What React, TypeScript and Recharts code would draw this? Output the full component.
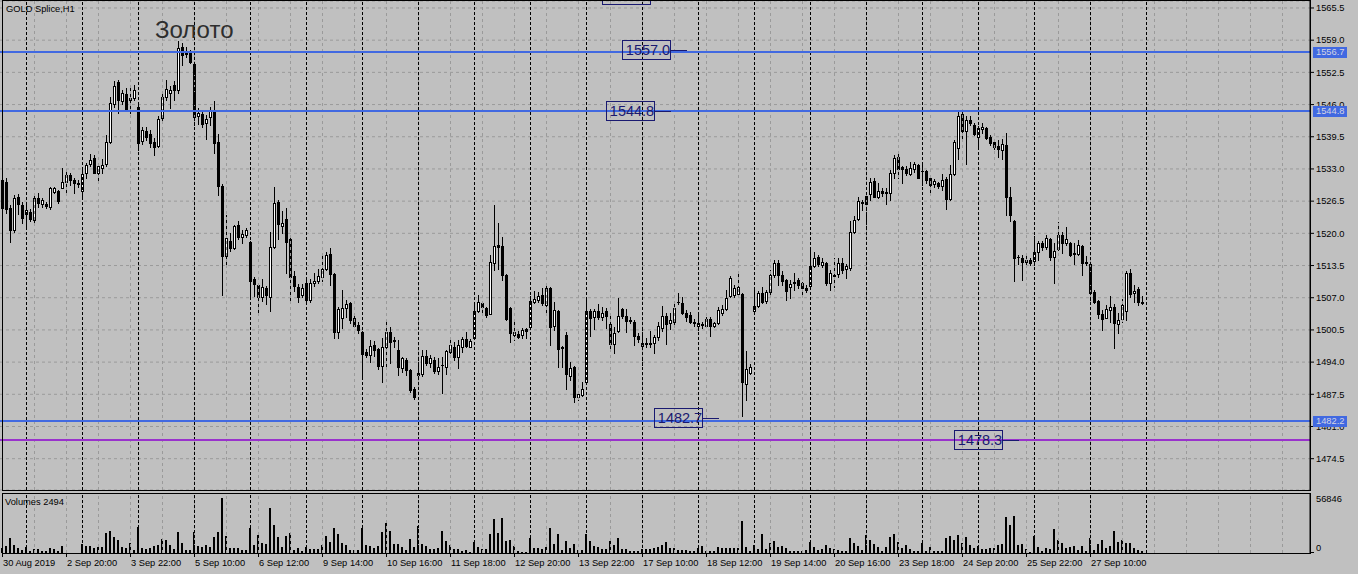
import React from 'react'
import { ComposedChart, Bar, XAxis, YAxis, CartesianGrid, ReferenceLine, ReferenceDot } from 'recharts'

// H1 candles, the first one is partly under the left frame
const FIRST_BAR = -1

const opens = [
  1530.8,
  1530.4, 1525.2, 1520.7, 1527.4, 1525.7, 1524.0, 1524.3, 1522.7, 1527.1, 1525.9,
  1525.9, 1525.4, 1528.4, 1528.5, 1529.2, 1530.4, 1531.8, 1530.8, 1530.2, 1528.6,
  1532.1, 1533.9, 1535.3, 1532.2, 1533.1, 1534.1, 1538.5, 1546.1, 1550.6, 1546.8,
  1548.1, 1546.9, 1547.3, 1545.6, 1538.6, 1540.6, 1540.0, 1538.5, 1537.7, 1543.2,
  1547.6, 1548.3, 1549.9, 1548.9, 1557.6, 1556.8, 1556.7, 1554.2, 1543.7, 1544.1,
  1542.2, 1543.4, 1544.9, 1538.4, 1529.6, 1515.5, 1518.4, 1517.0, 1521.7, 1519.2,
  1519.7, 1518.2, 1510.8, 1509.5, 1507.1, 1508.9, 1507.2, 1517.2, 1526.3, 1521.5,
  1522.8, 1518.8, 1511.4, 1509.1, 1507.5, 1509.9, 1506.5, 1509.9, 1510.4, 1511.2,
  1512.9, 1515.8, 1511.8, 1500.1, 1503.0, 1505.0, 1505.9, 1503.0, 1501.5, 1500.0,
  1496.1, 1495.4, 1497.4, 1496.6, 1493.2, 1497.1, 1500.0, 1498.4, 1496.5, 1492.9,
  1494.4, 1492.4, 1488.5, 1491.9, 1491.7, 1495.2, 1493.8, 1494.4, 1492.3, 1493.4,
  1493.1, 1496.1, 1497.1, 1495.1, 1497.1, 1498.7, 1497.1, 1498.9, 1504.4, 1505.9,
  1505.0, 1503.8, 1514.1, 1517.6, 1517.4, 1511.6, 1505.0, 1499.5, 1499.7, 1499.5,
  1500.7, 1501.0, 1506.2, 1506.5, 1507.5, 1505.5, 1508.9, 1501.3, 1504.3, 1497.1,
  1499.5, 1491.1, 1493.1, 1486.9, 1487.4, 1489.9, 1504.3, 1503.1, 1504.3, 1503.1,
  1504.3, 1501.7, 1497.6, 1500.3, 1504.7, 1503.4, 1502.6, 1502.0, 1499.3, 1497.3,
  1497.9, 1497.8, 1497.9, 1499.0, 1500.9, 1503.4, 1501.9, 1502.2, 1506.2, 1506.0,
  1504.0, 1503.5, 1502.2, 1501.3, 1501.7, 1501.3, 1502.8, 1501.3, 1501.8, 1504.0,
  1504.7, 1507.3, 1507.5, 1507.7, 1507.7, 1489.5, 1491.9, 1504.4, 1505.3, 1507.9,
  1506.4, 1508.2, 1511.6, 1514.0, 1511.6, 1510.6, 1509.1, 1510.2, 1510.6, 1509.9,
  1509.0, 1509.4, 1513.5, 1515.2, 1513.7, 1514.1, 1509.9, 1511.6, 1511.7, 1514.1,
  1512.7, 1513.0, 1520.2, 1522.8, 1526.3, 1526.0, 1527.9, 1530.6, 1527.4, 1528.5,
  1528.3, 1528.1, 1532.2, 1535.5, 1533.3, 1533.0, 1532.0, 1533.0, 1533.8, 1532.6,
  1532.6, 1531.1, 1529.9, 1530.1, 1529.6, 1530.9, 1526.9, 1531.9, 1537.2, 1544.1,
  1540.7, 1542.9, 1541.9, 1539.4, 1541.0, 1541.3, 1539.5, 1538.5, 1537.6, 1536.8,
  1537.8, 1527.3, 1522.5, 1515.3, 1515.1, 1514.6, 1514.6, 1514.5, 1516.2, 1518.1,
  1517.3, 1518.8, 1515.2, 1516.8, 1519.7, 1518.0, 1518.1, 1516.0, 1515.8, 1517.4,
  1514.2, 1513.8, 1508.1, 1506.3, 1503.7, 1503.0, 1504.5, 1505.1, 1501.7, 1502.8,
  1504.4, 1512.0, 1507.9, 1508.8, 1506.2,
]

const highs = [
  1531.2,
  1531.2, 1525.7, 1527.7, 1527.9, 1526.4, 1525.7, 1525.0, 1527.5, 1528.1, 1527.1,
  1526.4, 1529.4, 1529.4, 1528.7, 1533.1, 1532.3, 1532.1, 1531.2, 1530.8, 1532.9,
  1534.3, 1536.0, 1535.8, 1534.1, 1535.1, 1539.8, 1547.5, 1550.8, 1550.9, 1548.9,
  1549.3, 1549.3, 1549.9, 1546.2, 1541.5, 1541.5, 1540.9, 1539.2, 1543.6, 1548.3,
  1550.9, 1549.7, 1550.7, 1558.9, 1558.4, 1557.7, 1557.0, 1554.7, 1545.4, 1545.0,
  1543.9, 1545.6, 1546.7, 1540.0, 1530.0, 1523.7, 1520.0, 1521.7, 1522.5, 1520.7,
  1521.0, 1518.4, 1511.2, 1509.8, 1510.7, 1509.4, 1520.2, 1529.4, 1526.7, 1524.5,
  1525.2, 1519.0, 1512.4, 1509.8, 1509.8, 1510.6, 1510.7, 1511.9, 1512.7, 1515.8,
  1516.3, 1517.0, 1512.0, 1505.1, 1508.5, 1506.5, 1506.1, 1503.4, 1502.0, 1500.3,
  1496.6, 1498.5, 1498.3, 1496.9, 1498.8, 1502.7, 1501.1, 1499.1, 1498.5, 1495.1,
  1494.8, 1492.7, 1489.0, 1495.1, 1496.5, 1496.5, 1495.4, 1495.1, 1494.8, 1495.1,
  1496.5, 1499.1, 1498.1, 1498.5, 1499.1, 1500.1, 1498.6, 1505.9, 1507.5, 1506.3,
  1505.2, 1515.6, 1525.7, 1522.0, 1519.3, 1511.8, 1505.2, 1502.3, 1500.3, 1500.8,
  1500.9, 1507.3, 1508.4, 1508.2, 1508.9, 1509.9, 1509.1, 1506.2, 1504.5, 1497.3,
  1500.1, 1494.1, 1493.3, 1488.0, 1489.9, 1506.5, 1504.7, 1504.7, 1505.7, 1505.2,
  1504.9, 1503.5, 1501.0, 1506.9, 1505.0, 1504.7, 1503.2, 1502.5, 1499.8, 1500.5,
  1498.8, 1500.3, 1499.5, 1502.0, 1505.3, 1503.9, 1503.9, 1505.9, 1508.0, 1507.2,
  1504.5, 1504.2, 1502.8, 1503.5, 1502.2, 1503.2, 1503.2, 1502.2, 1505.2, 1505.5,
  1508.5, 1511.3, 1509.6, 1511.9, 1507.9, 1496.2, 1493.7, 1508.5, 1508.4, 1509.2,
  1508.5, 1512.6, 1514.6, 1514.6, 1512.3, 1510.8, 1510.6, 1511.9, 1510.9, 1510.2,
  1509.6, 1517.0, 1516.3, 1515.6, 1515.0, 1514.3, 1512.6, 1515.0, 1515.0, 1515.0,
  1513.9, 1522.5, 1523.5, 1527.3, 1526.7, 1528.4, 1531.1, 1531.1, 1530.1, 1529.1,
  1529.1, 1532.8, 1535.8, 1536.0, 1533.6, 1533.5, 1534.5, 1534.5, 1534.0, 1533.8,
  1532.8, 1531.3, 1530.9, 1530.4, 1531.9, 1531.4, 1533.8, 1538.8, 1544.6, 1544.6,
  1543.6, 1543.6, 1542.3, 1541.7, 1542.3, 1541.5, 1539.9, 1539.0, 1538.8, 1539.0,
  1540.2, 1529.3, 1522.7, 1515.6, 1515.6, 1515.8, 1515.1, 1519.5, 1518.5, 1518.5,
  1519.7, 1519.0, 1518.0, 1522.2, 1520.3, 1521.3, 1518.3, 1518.0, 1518.6, 1517.6,
  1515.4, 1514.0, 1508.5, 1506.5, 1504.5, 1505.5, 1507.3, 1505.7, 1503.9, 1506.7,
  1512.3, 1512.7, 1509.6, 1509.1, 1507.3,
]

const lows = [
  1524.7,
  1524.1, 1518.3, 1520.3, 1524.0, 1522.1, 1521.1, 1522.4, 1522.3, 1525.4, 1525.4,
  1525.2, 1525.0, 1528.1, 1526.1, 1529.1, 1527.7, 1529.8, 1528.1, 1529.4, 1527.3,
  1531.1, 1533.5, 1532.1, 1530.8, 1532.2, 1533.5, 1538.2, 1545.5, 1544.2, 1546.2,
  1544.6, 1544.2, 1546.9, 1536.8, 1538.0, 1538.8, 1537.5, 1535.9, 1537.5, 1542.5,
  1546.9, 1545.4, 1546.9, 1548.3, 1554.0, 1555.7, 1554.3, 1541.9, 1542.1, 1541.5,
  1539.0, 1541.9, 1536.3, 1527.7, 1507.5, 1513.6, 1516.5, 1516.8, 1518.8, 1518.0,
  1519.3, 1507.2, 1507.3, 1504.2, 1506.3, 1505.7, 1504.4, 1517.0, 1518.8, 1520.1,
  1512.0, 1506.2, 1508.4, 1506.2, 1507.1, 1506.0, 1506.2, 1509.4, 1510.0, 1510.4,
  1512.6, 1509.6, 1498.9, 1498.9, 1500.9, 1503.2, 1501.9, 1501.0, 1499.9, 1491.1,
  1495.1, 1494.1, 1495.2, 1492.7, 1490.0, 1493.1, 1493.8, 1497.1, 1491.4, 1492.1,
  1491.4, 1488.0, 1486.5, 1490.7, 1491.1, 1493.4, 1493.1, 1491.9, 1491.7, 1487.7,
  1491.7, 1495.8, 1494.4, 1492.9, 1496.1, 1497.1, 1497.0, 1498.8, 1504.2, 1504.2,
  1503.2, 1503.7, 1512.6, 1512.7, 1510.6, 1502.5, 1498.1, 1498.5, 1498.8, 1498.8,
  1498.9, 1500.8, 1505.9, 1506.2, 1505.5, 1504.2, 1497.5, 1500.5, 1493.1, 1493.1,
  1488.6, 1490.4, 1486.0, 1486.3, 1487.2, 1489.7, 1499.3, 1500.7, 1502.8, 1502.5,
  1500.9, 1496.8, 1495.9, 1500.1, 1503.0, 1500.1, 1501.8, 1497.5, 1498.1, 1493.4,
  1497.1, 1497.0, 1495.9, 1498.5, 1500.3, 1497.7, 1500.6, 1501.5, 1505.7, 1503.7,
  1502.3, 1501.8, 1501.3, 1500.5, 1500.8, 1501.0, 1499.3, 1501.1, 1501.7, 1503.6,
  1504.5, 1507.2, 1507.2, 1507.2, 1483.2, 1486.3, 1491.7, 1504.1, 1505.2, 1505.9,
  1505.9, 1507.5, 1511.2, 1509.6, 1509.6, 1506.5, 1506.9, 1508.5, 1508.9, 1507.2,
  1508.2, 1509.2, 1513.3, 1513.5, 1513.3, 1509.6, 1508.5, 1509.2, 1511.2, 1511.9,
  1511.0, 1512.6, 1520.0, 1522.7, 1524.7, 1521.4, 1526.7, 1527.3, 1527.1, 1527.5,
  1526.0, 1526.7, 1531.1, 1531.1, 1530.1, 1531.8, 1531.8, 1532.4, 1531.1, 1529.8,
  1530.1, 1528.4, 1529.4, 1529.1, 1528.7, 1525.0, 1526.7, 1531.8, 1535.1, 1539.0,
  1534.1, 1541.9, 1539.9, 1537.0, 1540.2, 1539.0, 1537.8, 1537.0, 1535.5, 1535.1,
  1523.7, 1522.5, 1510.4, 1513.9, 1510.6, 1513.7, 1513.7, 1513.6, 1514.6, 1516.6,
  1516.8, 1514.6, 1509.9, 1516.6, 1516.0, 1517.6, 1515.4, 1513.9, 1515.6, 1511.6,
  1513.6, 1505.9, 1505.9, 1502.9, 1500.5, 1502.9, 1502.1, 1496.8, 1499.8, 1502.1,
  1502.5, 1507.2, 1506.2, 1505.5, 1505.7,
]

const closes = [
  1525.1,
  1525.0, 1520.7, 1527.2, 1525.9, 1523.0, 1524.7, 1522.9, 1527.1, 1526.2, 1526.7,
  1525.6, 1529.1, 1529.1, 1526.5, 1530.4, 1531.8, 1530.8, 1530.1, 1530.0, 1532.0,
  1533.8, 1534.9, 1532.2, 1533.5, 1533.8, 1538.5, 1546.3, 1549.7, 1546.9, 1548.3,
  1544.9, 1547.3, 1548.9, 1538.3, 1540.9, 1539.5, 1538.2, 1537.5, 1543.1, 1547.6,
  1549.1, 1548.9, 1548.9, 1557.5, 1556.0, 1556.2, 1554.6, 1543.5, 1544.2, 1542.0,
  1543.0, 1544.9, 1538.2, 1529.6, 1515.5, 1519.0, 1517.1, 1521.5, 1519.3, 1519.9,
  1520.6, 1510.4, 1509.7, 1507.1, 1509.1, 1507.5, 1517.2, 1526.1, 1521.9, 1522.0,
  1518.3, 1511.2, 1509.4, 1507.2, 1508.9, 1506.5, 1509.9, 1510.4, 1511.4, 1512.9,
  1515.6, 1511.7, 1500.1, 1504.7, 1504.9, 1505.7, 1502.6, 1501.3, 1500.5, 1495.6,
  1495.4, 1497.3, 1496.4, 1493.2, 1497.0, 1500.0, 1498.1, 1498.2, 1493.1, 1494.8,
  1492.4, 1488.4, 1487.0, 1491.4, 1495.2, 1493.9, 1494.8, 1492.3, 1493.0, 1493.5,
  1496.2, 1497.5, 1495.1, 1497.5, 1498.7, 1497.3, 1498.3, 1504.3, 1506.1, 1505.1,
  1503.5, 1514.3, 1517.4, 1517.3, 1511.6, 1502.8, 1499.9, 1500.0, 1499.1, 1500.5,
  1500.3, 1506.3, 1506.7, 1507.3, 1506.0, 1508.9, 1501.1, 1504.5, 1496.6, 1496.8,
  1491.5, 1492.8, 1487.0, 1487.6, 1488.5, 1504.3, 1503.0, 1504.3, 1503.1, 1504.0,
  1503.3, 1497.6, 1499.8, 1503.4, 1503.4, 1502.4, 1502.4, 1499.3, 1498.6, 1497.8,
  1497.6, 1497.6, 1499.0, 1501.3, 1503.4, 1501.7, 1502.5, 1505.0, 1506.1, 1504.0,
  1503.2, 1502.0, 1501.8, 1501.8, 1501.5, 1502.8, 1501.3, 1501.9, 1504.5, 1504.7,
  1506.9, 1510.9, 1508.9, 1509.1, 1490.0, 1492.6, 1493.1, 1505.3, 1507.9, 1506.2,
  1508.2, 1511.6, 1514.0, 1511.5, 1510.4, 1508.4, 1509.8, 1509.9, 1509.5, 1508.9,
  1508.6, 1513.4, 1515.0, 1513.8, 1514.3, 1509.9, 1511.9, 1511.4, 1514.1, 1512.6,
  1513.4, 1520.3, 1522.7, 1526.5, 1526.1, 1527.6, 1530.3, 1527.4, 1528.5, 1528.2,
  1528.1, 1532.1, 1535.3, 1533.0, 1533.0, 1532.2, 1533.1, 1534.1, 1531.2, 1532.5,
  1530.8, 1529.8, 1530.6, 1529.6, 1530.8, 1526.9, 1531.9, 1538.5, 1543.7, 1540.7,
  1542.9, 1542.2, 1540.0, 1541.2, 1541.5, 1539.3, 1538.2, 1537.5, 1537.0, 1538.0,
  1527.4, 1523.7, 1515.1, 1515.2, 1514.3, 1514.3, 1514.1, 1516.2, 1518.0, 1517.3,
  1519.0, 1515.3, 1516.5, 1519.7, 1518.1, 1518.8, 1515.6, 1515.8, 1517.6, 1514.1,
  1514.0, 1508.0, 1506.2, 1503.7, 1502.8, 1504.7, 1505.1, 1501.8, 1502.5, 1505.5,
  1512.0, 1507.8, 1508.4, 1506.1, 1506.0,
]

const volumes = [
  5000,
  7600, 15600, 8300, 5500, 3100, 6600, 2400, 4500, 4500, 2100,
  1700, 5500, 3800, 2400, 7600, 0, 0, 0, 0, 9300,
  7600, 7600, 4800, 5900, 6600, 21100, 23200, 17000, 13800, 6600,
  5500, 10700, 3500, 27300, 5500, 4200, 4800, 7600, 8300, 14500,
  13800, 8700, 4200, 22100, 10700, 3100, 3100, 21500, 7600, 6200,
  8700, 5900, 17000, 22100, 56846, 18000, 4800, 5500, 5500, 3500,
  2800, 26300, 8300, 19000, 10700, 9700, 47000, 29400, 16300, 6600,
  18000, 20800, 3100, 5500, 2400, 6600, 4500, 4500, 4500, 8700,
  18000, 11800, 25600, 20100, 10700, 8300, 3100, 3100, 3100, 26300,
  8300, 7600, 5500, 7600, 22100, 31500, 23200, 9700, 9700, 6600,
  3500, 14500, 5900, 27700, 9700, 7600, 4500, 4500, 5500, 23200,
  12800, 8700, 4500, 4500, 2400, 3100, 1400, 11800, 6600, 3800,
  3800, 20100, 35600, 21100, 36700, 12800, 13800, 7600, 2100, 1400,
  1400, 15900, 5500, 5500, 4200, 6600, 26300, 9700, 20100, 3500,
  12800, 4800, 9700, 3500, 3500, 20100, 12800, 7600, 6600, 4500,
  4500, 12800, 8700, 15900, 4500, 4200, 2100, 2100, 2100, 4500,
  4500, 4500, 5500, 6600, 8700, 11800, 5500, 5500, 3500, 3500,
  3500, 2400, 2400, 5500, 7600, 2400, 2400, 2400, 6600, 5500,
  5500, 5500, 5500, 5500, 33600, 6600, 2400, 8700, 4500, 20100,
  4500, 10700, 12800, 6600, 7600, 5500, 2400, 2400, 2400, 2400,
  3100, 11800, 6600, 3500, 4500, 8700, 5500, 4500, 3100, 2400,
  2400, 15900, 10700, 7600, 3500, 19000, 13800, 9700, 6600, 2400,
  6600, 17000, 20100, 11800, 5500, 8700, 4500, 2400, 2400, 10700,
  2400, 6600, 2400, 2400, 2400, 15900, 18000, 13800, 19000, 10700,
  17000, 8700, 5500, 7600, 4500, 4500, 5500, 5500, 8700, 9700,
  37700, 29400, 38800, 8700, 9700, 4500, 1400, 18000, 6600, 2400,
  5500, 4500, 25300, 13800, 10700, 5500, 6600, 7600, 3500, 7600,
  2400, 15900, 3500, 9700, 13800, 5500, 7600, 23200, 11800, 13800,
  10700, 10700, 5500, 3500, 2494,
]

const timeLabels = [
  '30 Aug 2019', '2 Sep 20:00', '3 Sep 22:00', '5 Sep 10:00', '6 Sep 12:00', '9 Sep 14:00',
  '10 Sep 16:00', '11 Sep 18:00', '12 Sep 20:00', '13 Sep 22:00', '17 Sep 10:00', '18 Sep 12:00',
  '19 Sep 14:00', '20 Sep 16:00', '23 Sep 18:00', '24 Sep 20:00', '25 Sep 22:00', '27 Sep 10:00',
]
const labelBars = [-1, 15, 31, 47, 63, 79, 95, 111, 127, 143, 159, 175, 191, 207, 223, 239, 255, 271]

// day separators
const separatorBars = [5, 19, 33, 47, 61, 75, 89, 103, 117, 131, 145, 159, 173, 187, 201, 215, 229, 243, 257, 271, 285]

// grey vertical grid, every 8 bars
const gridBars = [
  -1, 7, 15, 23, 31, 39, 47, 55, 63, 71, 79, 87, 95, 103, 111, 119, 127, 135, 143, 151, 159,
  167, 175, 183, 191, 199, 207, 215, 223, 231, 239, 247, 255, 263, 271, 279, 287, 295, 303, 311, 319,
]

const priceTicks = [
  1474.5, 1481.0, 1487.5, 1494.0, 1500.5, 1507.0, 1513.5, 1520.0,
  1526.5, 1533.0, 1539.5, 1546.0, 1552.5, 1559.0, 1565.5,
]
const volumeTicks = [0, 56846]

const levelPrices = [1556.7, 1544.8, 1482.2, 1478.3]
const levelColors = ['#4169e1', '#4169e1', '#4169e1', '#9932cc']
const levelTagged = [true, true, true, false]

// text boxes; the last one sits above the window, only its lower edge shows
const noteTexts = ['1557.0', '1544.8', '1482.7', '1478.3', '']
const noteBars = [160, 156, 168, 243, 155]
const notePrices = [1557.0, 1544.8, 1482.7, 1478.3, 1568.2]

const PRICE_MIN = 1468.18
const PRICE_MAX = 1566.91
const VOLUME_MAX = 61400
const X_MIN = -1.625
const X_MAX = 325.875

const W = 1358
const BG = '#c0c0c0'
const NAVY = '#191970'
const GRID = '#9a9a9a'
const FONT = '"Liberation Sans", Arial, sans-serif'
const SMALL = 9.3

const data = opens.map((open, k) => ({
  i: FIRST_BAR + k,
  open,
  close: closes[k],
  high: highs[k],
  low: lows[k],
  range: [lows[k], highs[k]],
  volume: volumes[k],
}))

function renderCandle(props: any) {
  const { x, y, width, height, payload } = props
  const { open, close, high, low } = payload
  const cx = x + width / 2
  const span = high - low || 1
  const toY = (v: number) => y + ((high - v) / span) * height
  const top = Math.round(toY(Math.max(open, close)))
  const bot = Math.round(toY(Math.min(open, close)))
  const yHi = Math.round(y)
  const yLo = Math.round(y + height)
  const left = Math.floor(cx) - 1
  const bull = close > open
  return (
    <g shapeRendering="crispEdges">
      <rect x={left + 1} y={yHi} width={1} height={Math.max(1, yLo - yHi + 1)} fill="#000" />
      <rect x={left} y={top} width={3} height={Math.max(1, bot - top + 1)} fill="#000" />
      {bull && bot - top >= 2 && (
        <rect x={left + 1} y={top + 1} width={1} height={bot - top - 1} fill="#fff" />
      )}
    </g>
  )
}

function renderVolume(props: any) {
  const { x, y, width, height } = props
  if (!height) return <g />
  const left = Math.floor(x + width / 2) - 1
  return <rect x={left} y={Math.round(y)} width={2} height={Math.round(height)} fill="#000" shapeRendering="crispEdges" />
}

function priceTag(price: number, color: string) {
  return (props: any) => {
    const vb = props.viewBox || {}
    const tx = vb.x + vb.width + 3
    const ty = Math.round(vb.y)
    return (
      <g>
        <rect x={tx} y={ty - 5} width={34} height={11} fill={color} shapeRendering="crispEdges" />
        <text x={tx + 3} y={ty} dy="0.36em" fontSize={SMALL} fontFamily={FONT} fill="#d4d4e4">
          {price.toFixed(1)}
        </text>
      </g>
    )
  }
}

function noteShape(text: string) {
  return (props: any) => {
    const { cx, cy } = props
    const bx = Math.round(cx - 25) + 0.5
    const by = Math.round(cy - 10) + 0.5
    const ly = Math.round(cy) + 0.5
    return (
      <g>
        <rect x={bx} y={by} width={48} height={19} fill="none" stroke={NAVY} shapeRendering="crispEdges" />
        <line x1={bx + 48} x2={bx + 64} y1={ly} y2={ly} stroke={NAVY} shapeRendering="crispEdges" />
        {text && (
          <text x={cx + 1.5} y={cy} dy="0.36em" textAnchor="middle" fontSize={14.5} fontFamily={FONT} fill={NAVY}>
            {text}
          </text>
        )}
      </g>
    )
  }
}

function TimeTick(props: any) {
  const { x, y, payload } = props
  const k = labelBars.indexOf(payload.value)
  return (
    <text x={x + 0.5} y={y} dy="0.71em" textAnchor="start" fontSize={SMALL} fontFamily={FONT} fill="#000">
      {timeLabels[k]}
    </text>
  )
}

function VolumeTick(props: any) {
  const { x, y, payload } = props
  const isZero = payload.value === 0
  return (
    <g>
      {isZero && <line x1={x - 6} x2={x - 2} y1={Math.round(y) - 0.5} y2={Math.round(y) - 0.5} stroke="#000" />}
      <text x={x} y={isZero ? y - 5.5 : y} dy="0.36em" textAnchor="start" fontSize={SMALL} fontFamily={FONT} fill="#000">
        {payload.value}
      </text>
    </g>
  )
}

export default function App() {
  const frame: React.CSSProperties = {
    position: 'absolute',
    left: 2,
    width: 1309,
    boxSizing: 'border-box',
    border: '1px solid #000',
    pointerEvents: 'none',
  }
  const priceAxis = {
    orientation: 'right' as const,
    width: 48,
    type: 'number' as const,
    domain: [PRICE_MIN, PRICE_MAX],
    allowDataOverflow: true,
  }
  return (
    <div style={{ position: 'absolute', left: 0, top: 0, width: W, height: 574, background: BG, overflow: 'hidden', fontFamily: FONT }}>
      <div style={{ position: 'absolute', left: 0, top: 0 }}>
        <ComposedChart width={W} height={491} data={data} margin={{ top: 1, right: 0, bottom: 1, left: 0 }}>
          <CartesianGrid vertical={false} stroke={GRID} strokeDasharray="3 3" />
          <XAxis dataKey="i" type="number" domain={[X_MIN, X_MAX]} allowDataOverflow hide />
          <YAxis
            {...priceAxis}
            ticks={priceTicks}
            interval={0}
            tickSize={4}
            tickMargin={2}
            axisLine={{ stroke: '#000' }}
            tickLine={{ stroke: '#000' }}
            tick={{ fontSize: SMALL, fill: '#000', fontFamily: FONT }}
            tickFormatter={(v: number) => v.toFixed(1)}
          />
          {gridBars.map(b => (
            <ReferenceLine key={'g' + b} x={b} stroke={GRID} strokeDasharray="3 3" />
          ))}
          {separatorBars.map(b => (
            <ReferenceLine key={'s' + b} x={b} stroke="#000" strokeDasharray="3 2" />
          ))}
          <Bar dataKey="range" barSize={3} shape={renderCandle} isAnimationActive={false} />
          {levelPrices.map((p, k) => (
            <ReferenceLine key={'l' + p} y={p} stroke={levelColors[k]} strokeWidth={2} shapeRendering="crispEdges" />
          ))}
          {noteTexts.map((t, k) => (
            <ReferenceDot key={'n' + k} x={noteBars[k]} y={notePrices[k]} ifOverflow="visible" shape={noteShape(t)} />
          ))}
        </ComposedChart>
      </div>

      {/* price tags of the level lines sit on top of the axis labels */}
      <div style={{ position: 'absolute', left: 0, top: 0, pointerEvents: 'none' }}>
        <ComposedChart width={W} height={491} data={data} margin={{ top: 1, right: 0, bottom: 1, left: 0 }}>
          <XAxis dataKey="i" type="number" domain={[X_MIN, X_MAX]} allowDataOverflow hide />
          <YAxis {...priceAxis} ticks={priceTicks} tick={false} axisLine={false} tickLine={false} />
          {levelPrices.map((p, k) =>
            levelTagged[k] ? (
              <ReferenceLine key={'t' + p} y={p} stroke="none" label={priceTag(p, levelColors[k])} />
            ) : null
          )}
        </ComposedChart>
      </div>

      <div style={{ position: 'absolute', left: 0, top: 494 }}>
        <ComposedChart width={W} height={80} data={data} margin={{ top: 0, right: 0, bottom: 0, left: 0 }}>
          <XAxis
            dataKey="i"
            type="number"
            domain={[X_MIN, X_MAX]}
            allowDataOverflow
            ticks={labelBars}
            interval={0}
            height={21}
            tickSize={4}
            tickMargin={2}
            axisLine={false}
            tickLine={{ stroke: '#000' }}
            tick={<TimeTick />}
          />
          <YAxis
            orientation="right"
            width={48}
            type="number"
            domain={[0, VOLUME_MAX]}
            allowDataOverflow
            ticks={volumeTicks}
            interval={0}
            tickSize={4}
            tickMargin={2}
            axisLine={{ stroke: '#000' }}
            tickLine={false}
            tick={<VolumeTick />}
          />
          {gridBars.map(b => (
            <ReferenceLine key={'vg' + b} x={b} stroke={GRID} strokeDasharray="3 3" />
          ))}
          {separatorBars.map(b => (
            <ReferenceLine key={'vs' + b} x={b} stroke="#000" strokeDasharray="3 2" />
          ))}
          <Bar dataKey="volume" barSize={2} shape={renderVolume} isAnimationActive={false} />
        </ComposedChart>
      </div>

      <div style={{ ...frame, top: 0, height: 491 }} />
      <div style={{ ...frame, top: 493, height: 61 }} />

      <div style={{ position: 'absolute', left: 6, top: 5, fontSize: SMALL, lineHeight: 1, color: '#000', whiteSpace: 'nowrap' }}>
        GOLD Splice,H1
      </div>
      <div style={{ position: 'absolute', left: 155, top: 17.5, fontSize: 24, lineHeight: 1, color: '#2e2e2e', whiteSpace: 'nowrap' }}>
        Золото
      </div>
      <div style={{ position: 'absolute', left: 5, top: 498, fontSize: SMALL, lineHeight: 1, color: '#000', whiteSpace: 'nowrap' }}>
        Volumes 2494
      </div>
    </div>
  )
}
